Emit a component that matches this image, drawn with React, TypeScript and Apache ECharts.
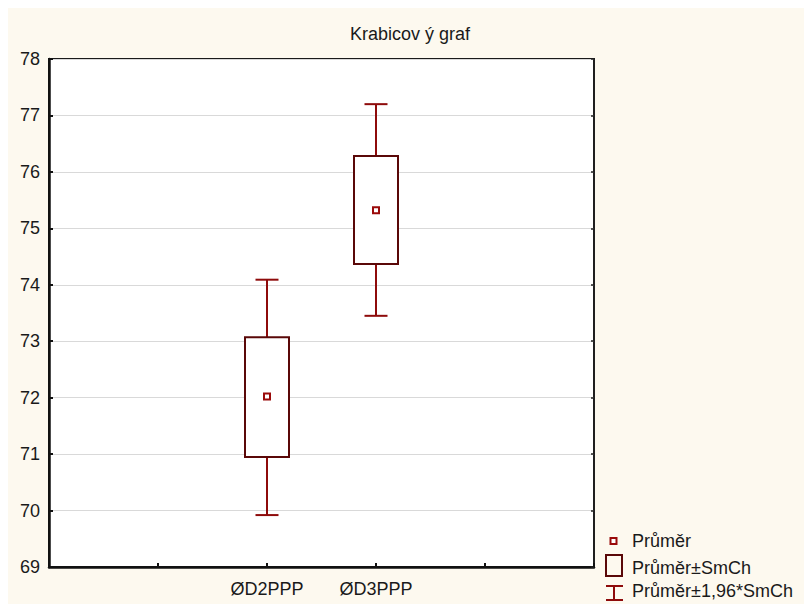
import React, { useEffect, useRef } from "react";
import * as echarts from "echarts";

const title = "Krabicov ý graf";
const categories = ["ØD2PPP", "ØD3PPP"];
const categoryPositions = [2, 3];
const means = [72.02, 75.32];
const boxLow = [70.95, 74.37];
const boxHigh = [73.07, 76.28];
const whiskerLow = [69.92, 73.45];
const whiskerHigh = [74.09, 77.2];
const legendNames = ["Průměr", "Průměr±SmCh", "Průměr±1,96*SmCh"];

const FONT = "'Liberation Sans', Arial, sans-serif";
const FS = 18;
const BOX_COLOR = "#5a0808";
const WHISKER_COLOR = "#8e0b0b";
const MEAN_COLOR = "#9a0a0a";
const TEXT_COLOR = "#1a1a1a";

export default function App() {
  const ref = useRef<HTMLDivElement>(null);
  useEffect(() => {
    if (!ref.current) return;
    const chart = echarts.init(ref.current, undefined, { renderer: "svg" });
    const data = categories.map((_, i) => [
      categoryPositions[i],
      means[i],
      boxLow[i],
      boxHigh[i],
      whiskerLow[i],
      whiskerHigh[i],
    ]);
    const renderItem = (params: any, api: any) => {
      const x = api.value(0);
      const pm = api.coord([x, api.value(1)]);
      const pbl = api.coord([x, api.value(2)]);
      const pbh = api.coord([x, api.value(3)]);
      const pwl = api.coord([x, api.value(4)]);
      const pwh = api.coord([x, api.value(5)]);
      const cx = Math.round(pm[0]);
      const bw = 44;
      const cw = 23;
      const ws = { stroke: WHISKER_COLOR, lineWidth: 2 };
      return {
        type: "group",
        children: [
          { type: "line", shape: { x1: cx, y1: pwh[1], x2: cx, y2: pbh[1] }, style: ws },
          { type: "line", shape: { x1: cx, y1: pbl[1], x2: cx, y2: pwl[1] }, style: ws },
          { type: "line", shape: { x1: cx - cw / 2, y1: pwh[1], x2: cx + cw / 2, y2: pwh[1] }, style: ws },
          { type: "line", shape: { x1: cx - cw / 2, y1: pwl[1], x2: cx + cw / 2, y2: pwl[1] }, style: ws },
          {
            type: "rect",
            shape: { x: cx - bw / 2, y: pbh[1], width: bw, height: pbl[1] - pbh[1] },
            style: { fill: "#ffffff", stroke: BOX_COLOR, lineWidth: 2 },
          },
          {
            type: "rect",
            shape: { x: cx - 3, y: pm[1] - 3, width: 6, height: 6 },
            style: { fill: "#ffffff", stroke: MEAN_COLOR, lineWidth: 2 },
          },
        ],
      };
    };
    const textStyle = { fill: TEXT_COLOR, font: `${FS}px ${FONT}`, textVerticalAlign: "middle" };
    chart.setOption({
      animation: false,
      backgroundColor: "#fdf9ef",
      textStyle: { fontFamily: FONT },
      grid: {
        left: 41,
        right: 210,
        top: 51,
        bottom: 37,
        show: true,
        backgroundColor: "#ffffff",
        borderColor: "#1a1a1a",
        borderWidth: 2,
      },
      xAxis: {
        type: "value",
        min: 0,
        max: 5,
        interval: 1,
        splitLine: { show: false },
        axisLine: { lineStyle: { color: "#111", width: 2.5 } },
        axisTick: { inside: true, length: 4, lineStyle: { color: "#111", width: 2 } },
        axisLabel: {
          margin: 13,
          fontSize: FS,
          color: TEXT_COLOR,
          fontFamily: FONT,
          formatter: (v: number) => {
            const i = categoryPositions.indexOf(v);
            return i >= 0 ? categories[i] : "";
          },
        },
      },
      yAxis: [
        {
          type: "value",
          min: 69,
          max: 78,
          interval: 1,
          axisLine: { show: true, lineStyle: { color: "#111", width: 2.5 } },
          axisTick: { show: true, inside: true, length: 4, lineStyle: { color: "#111", width: 2 } },
          splitLine: { show: true, lineStyle: { color: "#d9d9d9", width: 1 } },
          axisLabel: { margin: 9, fontSize: FS, color: TEXT_COLOR, fontFamily: FONT },
        },
        {
          type: "value",
          position: "right",
          min: 69,
          max: 78,
          interval: 1,
          axisLine: { show: true, lineStyle: { color: "#222", width: 1.5 } },
          axisTick: { show: true, inside: true, length: 3, lineStyle: { color: "#222", width: 1.5 } },
          splitLine: { show: false },
          axisLabel: { show: false },
        },
      ],
      series: [
        {
          type: "custom",
          renderItem,
          data,
          clip: false,
          encode: { x: 0, y: [1, 2, 3, 4, 5] },
          z: 10,
        },
      ],
      graphic: [
        {
          type: "text",
          left: 342,
          top: 17,
          style: { text: title, fill: TEXT_COLOR, font: `${FS}px ${FONT}` },
        },
        {
          type: "rect",
          shape: { x: 602.5, y: 530, width: 6, height: 6 },
          style: { fill: "#ffffff", stroke: MEAN_COLOR, lineWidth: 2 },
        },
        { type: "text", x: 624, y: 533, style: { ...textStyle, text: legendNames[0] } },
        {
          type: "rect",
          shape: { x: 598, y: 547, width: 16, height: 21 },
          style: { fill: "none", stroke: BOX_COLOR, lineWidth: 2 },
        },
        { type: "text", x: 624, y: 560, style: { ...textStyle, text: legendNames[1] } },
        { type: "line", shape: { x1: 606, y1: 578, x2: 606, y2: 592 }, style: { stroke: WHISKER_COLOR, lineWidth: 2 } },
        { type: "line", shape: { x1: 598, y1: 578, x2: 615, y2: 578 }, style: { stroke: WHISKER_COLOR, lineWidth: 2 } },
        { type: "line", shape: { x1: 598, y1: 592, x2: 615, y2: 592 }, style: { stroke: WHISKER_COLOR, lineWidth: 2 } },
        { type: "text", x: 624, y: 583, style: { ...textStyle, text: legendNames[2] } },
      ],
    });
    return () => chart.dispose();
  }, []);
  return (
    <div
      ref={ref}
      style={{ position: "fixed", left: 8, top: 8, width: 796, height: 596 }}
    />
  );
}
